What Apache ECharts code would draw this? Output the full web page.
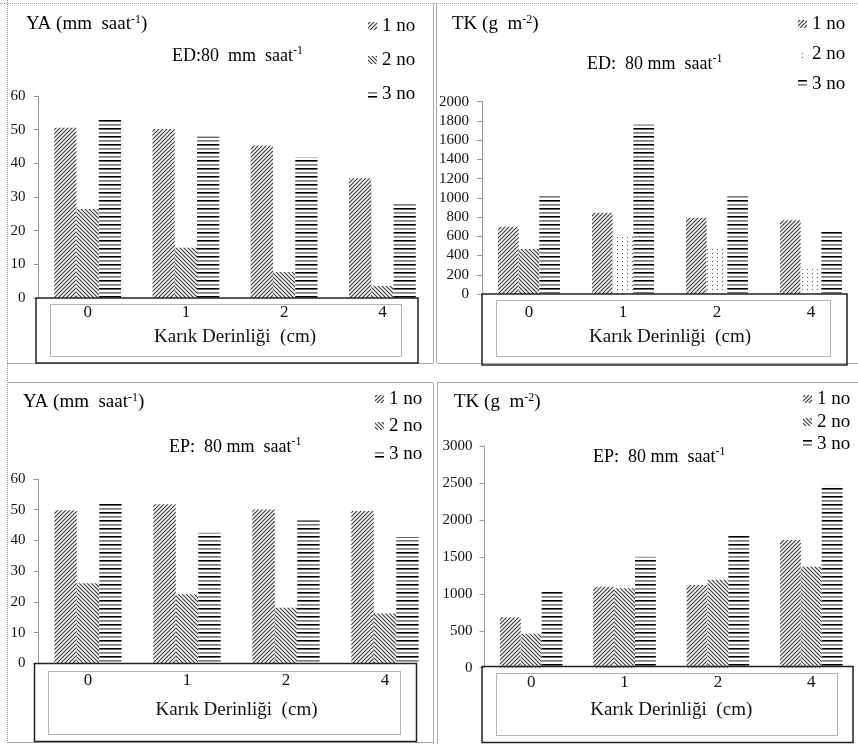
<!DOCTYPE html>
<html>
<head>
<meta charset="UTF-8">
<title></title>
<script type="text/javascript" src="https://cdn.jsdelivr.net/npm/echarts@6/dist/echarts.min.js"></script>
<style>body { margin: 0; background: #fff; }</style>
</head>
<body>
<div id="main" style="width: 858px; height: 744px;"></div>
<script type="text/javascript">
// kategoriler ve seri adlari
var categories = ['0', '1', '2', '4'];
var seriesNames = ['1 no', '2 no', '3 no'];
var axisTitle = 'Karık Derinliği  (cm)';

// YA, ED: 80 mm saat-1
var yaED1 = [50.6, 50.2, 45.3, 35.6];
var yaED2 = [26.4, 14.9, 7.7, 3.6];
var yaED3 = [52.9, 47.9, 41.8, 28.1];
// TK, ED: 80 mm saat-1
var tkED1 = [700, 844, 792, 768];
var tkED2 = [467, 604, 480, 268];
var tkED3 = [1039, 1763, 1039, 652];
// YA, EP: 80 mm saat-1
var yaEP1 = [49.8, 51.8, 50.1, 49.6];
var yaEP2 = [26.1, 22.5, 18.1, 16.2];
var yaEP3 = [52.1, 42.5, 46.5, 41.1];
// TK, EP: 80 mm saat-1
var tkEP1 = [681, 1096, 1119, 1728];
var tkEP2 = [460, 1074, 1191, 1367];
var tkEP3 = [1051, 1502, 1786, 2463];

// eksen ust sinirlari
var yaMax = 60, yaStep = 10;
var tkEDMax = 2000, tkEDStep = 200;
var tkEPMax = 3000, tkEPStep = 500;

var FONT = 'Liberation Serif';

// tarama desenleri
function makePattern(w, h, draw) {
    var c = document.createElement('canvas');
    c.width = w; c.height = h;
    var ctx = c.getContext('2d');
    ctx.fillStyle = '#fff';
    ctx.fillRect(0, 0, w, h);
    draw(ctx, w, h);
    return { image: c, repeat: 'repeat' };
}
var patFwd = makePattern(4, 4, function (ctx) {
    ctx.strokeStyle = '#3c3c3c'; ctx.lineWidth = 1.2;
    [-4, 0, 4].forEach(function (o) {
        ctx.beginPath(); ctx.moveTo(o - 1, 5); ctx.lineTo(o + 5, -1); ctx.stroke();
    });
});
var patBack = makePattern(4, 4, function (ctx) {
    ctx.strokeStyle = '#3c3c3c'; ctx.lineWidth = 1.2;
    [-4, 0, 4].forEach(function (o) {
        ctx.beginPath(); ctx.moveTo(o - 1, -1); ctx.lineTo(o + 5, 5); ctx.stroke();
    });
});
var patHor = makePattern(3, 8, function (ctx) {
    ctx.fillStyle = '#000'; ctx.fillRect(0, 0, 3, 1);
    ctx.fillStyle = '#666'; ctx.fillRect(0, 1, 3, 1);
    ctx.fillStyle = '#777'; ctx.fillRect(0, 4, 3, 1);
    ctx.fillStyle = '#aaa'; ctx.fillRect(0, 5, 3, 1);
});
var patDot = makePattern(5, 4, function (ctx) {
    ctx.fillStyle = '#555'; ctx.fillRect(2, 1, 1, 1);
});

var myChart = echarts.init(document.getElementById('main'));

function xAx(idx, margin, gap) {
    return {
        gridIndex: idx, type: 'category', data: categories,
        axisLine: { show: false }, axisTick: { show: false },
        axisLabel: { margin: margin, color: '#111', fontFamily: FONT, fontSize: 17 },
        name: axisTitle, nameLocation: 'middle', nameGap: gap,
        nameTextStyle: { color: '#111', fontFamily: FONT, fontSize: 19 }
    };
}
function yAx(idx, max, step, margin) {
    return {
        gridIndex: idx, type: 'value', min: 0, max: max, interval: step,
        axisLine: { show: true, lineStyle: { color: '#999' } },
        axisTick: { show: true, length: 5, lineStyle: { color: '#999' } },
        splitLine: { show: false },
        axisLabel: { margin: margin, color: '#111', fontFamily: FONT, fontSize: 15,
            formatter: function (v) { return String(v); } }
    };
}
function bar(idx, k, data, color, gap) {
    return {
        type: 'bar', name: seriesNames[k], xAxisIndex: idx, yAxisIndex: idx,
        data: data, barGap: '0%', barCategoryGap: gap,
        itemStyle: { color: color }, silent: true
    };
}

// ust-sag grafikte 2 no serisi: ilk cubuk tarali, digerleri noktali
var tkED2Items = tkED2.map(function (v, i) {
    return i === 0 ? { value: v, itemStyle: { color: patBack } } : v;
});

// grafik elemanlari
var g = [];
function line(x1, y1, x2, y2, color, dash) {
    g.push({ type: 'line', shape: { x1: x1, y1: y1, x2: x2, y2: y2 }, z: 5,
        style: { stroke: color, lineWidth: 1, lineDash: dash || null } });
}
function box(x, y, w, h, color, lw, dash) {
    g.push({ type: 'rect', shape: { x: x, y: y, width: w, height: h }, z: 5,
        style: { fill: null, stroke: color, lineWidth: lw, lineDash: dash || null } });
}
function supText(x, y, main, sup, tail, size) {
    g.push({ type: 'text', x: x, y: y, z: 6,
        style: {
            text: '{n|' + main + '}{s|' + sup + '}{n|' + tail + '}',
            verticalAlign: 'middle', align: 'left',
            rich: {
                n: { fontFamily: FONT, fontSize: size, fill: '#000', lineHeight: 20, verticalAlign: 'bottom' },
                s: { fontFamily: FONT, fontSize: 12, fill: '#000', lineHeight: 13, verticalAlign: 'top' }
            }
        } });
}
function legend(x, ys, pats) {
    for (var i = 0; i < 3; i++) {
        g.push({ type: 'rect', shape: { x: x, y: ys[i] - 4, width: 9, height: 8 }, z: 6,
            style: { fill: pats[i] } });
        g.push({ type: 'text', x: x + 14, y: ys[i], z: 6,
            style: { text: seriesNames[i], fontFamily: FONT, fontSize: 19, fill: '#000', verticalAlign: 'middle' } });
    }
}

// panel cerceveleri
line(0, 3.5, 858, 3.5, '#999', [1, 1]);
line(7.5, 0, 7.5, 744, '#999', [1, 1]);
line(7, 363.5, 433, 363.5, '#aaa');
line(437, 363.5, 858, 363.5, '#aaa');
line(7, 382.5, 433, 382.5, '#aaa');
line(437, 382.5, 858, 382.5, '#aaa');
line(433.5, 4, 433.5, 363, '#aaa');
line(436.5, 4, 436.5, 363, '#aaa');
line(433.5, 383, 433.5, 744, '#aaa');
line(437.5, 383, 437.5, 744, '#aaa');
line(7, 742.5, 433, 742.5, '#aaa');

// eksen kutulari
box(36, 298, 382, 65, '#222', 1.5);
box(50.5, 304.5, 351, 52, '#666', 1, [1, 1]);
box(482, 294, 365, 71, '#222', 1.5);
box(496.5, 300.5, 334, 56, '#666', 1, [1, 1]);
box(34.5, 663.5, 382, 78, '#222', 1.5);
box(48.5, 671.5, 352, 63, '#666', 1, [1, 1]);
box(482, 666.5, 371, 76, '#222', 1.5);
box(496.5, 673.5, 341, 62, '#666', 1, [1, 1]);

// basliklar
supText(26, 24, 'YA (mm  saat', '-1', ')', 19);
supText(172, 55, 'ED:80  mm  saat', '-1', '', 18);
supText(452, 24, 'TK (g  m', '-2', ')', 19);
supText(587, 63, 'ED:  80 mm  saat', '-1', '', 18);
supText(23, 402, 'YA (mm  saat', '-1', ')', 19);
supText(169, 446, 'EP:  80 mm  saat', '-1', '', 18);
supText(454, 402, 'TK (g  m', '-2', ')', 19);
supText(593, 456, 'EP:  80 mm  saat', '-1', '', 18);

// aciklamalar
legend(368, [26, 60, 94], [patFwd, patBack, patHor]);
legend(798, [24, 54, 84], [patFwd, patDot, patHor]);
legend(375, [399, 426, 454], [patFwd, patBack, patHor]);
legend(803, [399, 422, 444], [patFwd, patBack, patHor]);

option = {
    animation: false,
    grid: [
        { left: 38.5, top: 96, width: 393, height: 202 },
        { left: 482, top: 101.7, width: 380, height: 192.3 },
        { left: 38.5, top: 479, width: 396, height: 184.3 },
        { left: 484.5, top: 446, width: 380, height: 221.7 }
    ],
    xAxis: [xAx(0, 6, 30), xAx(1, 10, 34), xAx(2, 9, 37), xAx(3, 6, 33)],
    yAxis: [
        yAx(0, yaMax, yaStep, 13),
        yAx(1, tkEDMax, tkEDStep, 13),
        yAx(2, yaMax, yaStep, 13),
        yAx(3, tkEPMax, tkEPStep, 12)
    ],
    series: [
        bar(0, 0, yaED1, patFwd, '32%'),
        bar(0, 1, yaED2, patBack, '32%'),
        bar(0, 2, yaED3, patHor, '32%'),
        bar(1, 0, tkED1, patFwd, '34%'),
        bar(1, 1, tkED2Items, patDot, '34%'),
        bar(1, 2, tkED3, patHor, '34%'),
        bar(2, 0, yaEP1, patFwd, '32%'),
        bar(2, 1, yaEP2, patBack, '32%'),
        bar(2, 2, yaEP3, patHor, '32%'),
        bar(3, 0, tkEP1, patFwd, '33%'),
        bar(3, 1, tkEP2, patBack, '33%'),
        bar(3, 2, tkEP3, patHor, '33%')
    ],
    graphic: g
};

myChart.setOption(option);
</script>
</body>
</html>
